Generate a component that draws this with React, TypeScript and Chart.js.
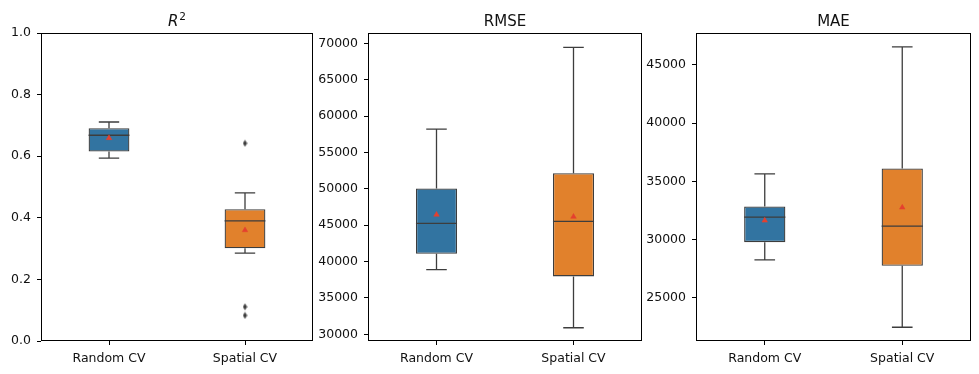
import React, { useEffect, useRef } from "react";
import { Chart, registerables } from "chart.js";
Chart.register(...registerables);

// ---------- data ----------
const categories = ["Random CV", "Spatial CV"];
const boxColors = ["#3274a1", "#e1812c"];

const r2WhiskerLow = [0.594, 0.285];
const r2Q1 = [0.615, 0.301];
const r2Median = [0.668, 0.39];
const r2Q3 = [0.691, 0.428];
const r2WhiskerHigh = [0.711, 0.481];
const r2Mean = [0.659, 0.36];
const r2OutliersSpatial = [0.642, 0.111, 0.083];
const r2Ticks = [0, 0.2, 0.4, 0.6, 0.8, 1.0];
const r2Range = [0, 1];

const rmseWhiskerLow = [38900, 30900];
const rmseQ1 = [41070, 37960];
const rmseMedian = [45260, 45540];
const rmseQ3 = [50050, 52150];
const rmseWhiskerHigh = [58200, 69450];
const rmseMean = [46450, 46170];
const rmseTicks = [30000, 35000, 40000, 45000, 50000, 55000, 60000, 65000, 70000];
const rmseRange = [29080, 71430];

const maeWhiskerLow = [28240, 22450];
const maeQ1 = [29770, 27730];
const maeMedian = [31920, 31150];
const maeQ3 = [32830, 36100];
const maeWhiskerHigh = [35640, 46550];
const maeMean = [31630, 32750];
const maeTicks = [25000, 30000, 35000, 40000, 45000];
const maeRange = [21270, 47750];

// ---------- styling ----------
const FONT = "'DejaVu Sans', sans-serif";
const LINE = "#3d3d3d";
const MEAN_COLOR = "#e4402f";

const boxPlugin = {
  id: "boxDetails",
  afterDatasetDraw(chart: any, args: any, opts: any) {
    if (args.index !== 0) return;
    const meta = chart.getDatasetMeta(0);
    const y = chart.scales.y;
    const ctx = chart.ctx;
    ctx.save();
    ctx.strokeStyle = LINE;
    ctx.lineWidth = 1.3;
    meta.data.forEach((bar: any, i: number) => {
      const x = bar.x;
      const hw = bar.width / 2;
      const cap = hw / 2;
      const yq1 = y.getPixelForValue(opts.q1[i]);
      const yq3 = y.getPixelForValue(opts.q3[i]);
      const ylo = y.getPixelForValue(opts.lo[i]);
      const yhi = y.getPixelForValue(opts.hi[i]);
      const ymed = y.getPixelForValue(opts.med[i]);
      ctx.beginPath();
      ctx.moveTo(x, yq3);
      ctx.lineTo(x, yhi);
      ctx.moveTo(x - cap, yhi);
      ctx.lineTo(x + cap, yhi);
      ctx.moveTo(x, yq1);
      ctx.lineTo(x, ylo);
      ctx.moveTo(x - cap, ylo);
      ctx.lineTo(x + cap, ylo);
      ctx.moveTo(x - hw, ymed);
      ctx.lineTo(x + hw, ymed);
      ctx.stroke();
    });
    ctx.restore();
  },
};

const framePlugin = {
  id: "frameTitle",
  afterDraw(chart: any, _args: any, opts: any) {
    const { left, right, top, bottom } = chart.chartArea;
    const ctx = chart.ctx;
    ctx.save();
    ctx.strokeStyle = "#000";
    ctx.lineWidth = 1;
    const l = Math.round(left) + 0.5;
    const t = Math.round(top) + 0.5;
    const r = Math.round(right) - 0.5;
    const b = Math.round(bottom) - 0.5;
    ctx.strokeRect(l, t, r - l, b - t);
    // title
    ctx.fillStyle = "#111";
    ctx.textBaseline = "alphabetic";
    const cx = (left + right) / 2;
    const by = top - 7;
    if (opts.math) {
      ctx.font = `italic 15px ${FONT}`;
      const w1 = ctx.measureText("R").width;
      ctx.font = `10.5px ${FONT}`;
      const w2 = ctx.measureText("2").width;
      const start = cx - (w1 + w2 + 1) / 2;
      ctx.font = `italic 15px ${FONT}`;
      ctx.textAlign = "left";
      ctx.fillText("R", start, by);
      ctx.font = `10.5px ${FONT}`;
      ctx.fillText("2", start + w1 + 1, by - 6);
    } else {
      ctx.font = `15px ${FONT}`;
      ctx.textAlign = "center";
      ctx.fillText(opts.text, cx, by);
    }
    ctx.restore();
  },
};

function makeDiamond(): HTMLCanvasElement {
  const c = document.createElement("canvas");
  c.width = 5;
  c.height = 8;
  const g = c.getContext("2d")!;
  g.fillStyle = LINE;
  g.beginPath();
  g.moveTo(2.5, 0.5);
  g.lineTo(4.6, 4);
  g.lineTo(2.5, 7.5);
  g.lineTo(0.4, 4);
  g.closePath();
  g.fill();
  return c;
}

type Panel = {
  title: string;
  math: boolean;
  lo: number[];
  q1: number[];
  med: number[];
  q3: number[];
  hi: number[];
  mean: number[];
  outliers: { x: string; y: number }[];
  ticks: number[];
  range: number[];
  decimals: number;
  left: number;
  width: number;
  axisWidth: number;
  padLeft: number;
  padRight: number;
};

const panels: Panel[] = [
  {
    title: "R2", math: true,
    lo: r2WhiskerLow, q1: r2Q1, med: r2Median, q3: r2Q3, hi: r2WhiskerHigh, mean: r2Mean,
    outliers: r2OutliersSpatial.map((v) => ({ x: categories[1], y: v })),
    ticks: r2Ticks, range: r2Range, decimals: 1,
    left: 0, width: 330, axisWidth: 40, padLeft: 1, padRight: 17,
  },
  {
    title: "RMSE", math: false,
    lo: rmseWhiskerLow, q1: rmseQ1, med: rmseMedian, q3: rmseQ3, hi: rmseWhiskerHigh, mean: rmseMean,
    outliers: [],
    ticks: rmseTicks, range: rmseRange, decimals: 0,
    left: 318, width: 330, axisWidth: 50, padLeft: 0, padRight: 6,
  },
  {
    title: "MAE", math: false,
    lo: maeWhiskerLow, q1: maeQ1, med: maeMedian, q3: maeQ3, hi: maeWhiskerHigh, mean: maeMean,
    outliers: [],
    ticks: maeTicks, range: maeRange, decimals: 0,
    left: 643, width: 336, axisWidth: 50, padLeft: 3, padRight: 8,
  },
];

const HEIGHT = 374;

export default function App() {
  const refs = useRef<(HTMLCanvasElement | null)[]>([]);

  useEffect(() => {
    const diamond = makeDiamond();
    const charts = panels.map((p, idx) => {
      const canvas = refs.current[idx]!;
      return new Chart(canvas, {
        type: "bar",
        data: {
          labels: categories,
          datasets: [
            {
              type: "bar",
              order: 3,
              data: categories.map((_, i) => [p.q1[i], p.q3[i]]),
              backgroundColor: boxColors,
              borderColor: LINE,
              borderWidth: 1.3,
              borderSkipped: false,
              barPercentage: 0.3,
              categoryPercentage: 1.0,
            } as any,
            {
              type: "line",
              order: 1,
              data: p.mean,
              showLine: false,
              pointStyle: "triangle",
              pointRadius: 3.2,
              pointBackgroundColor: MEAN_COLOR,
              pointBorderColor: MEAN_COLOR,
              pointBorderWidth: 0.5,
            } as any,
            {
              type: "line",
              order: 2,
              data: p.outliers,
              showLine: false,
              pointStyle: diamond,
              pointRadius: 4,
            } as any,
          ],
        },
        options: {
          responsive: false,
          animation: false,
          devicePixelRatio: 1,
          layout: { padding: { left: p.padLeft, right: p.padRight, top: 33, bottom: 0 } },
          plugins: {
            legend: { display: false },
            tooltip: { enabled: false },
            boxDetails: { lo: p.lo, q1: p.q1, med: p.med, q3: p.q3, hi: p.hi },
            frameTitle: { text: p.title, math: p.math },
          } as any,
          scales: {
            x: {
              type: "category",
              offset: true,
              grid: { offset: false, drawOnChartArea: false, drawTicks: true, tickLength: 4, color: "#000", tickWidth: 1 },
              border: { display: false },
              ticks: { color: "#111", font: { family: FONT, size: 12.5 }, padding: 6, maxRotation: 0 },
              afterFit: (s: any) => { s.height = 33; },
            },
            y: {
              type: "linear",
              min: p.range[0],
              max: p.range[1],
              grid: { drawOnChartArea: false, drawTicks: true, tickLength: 4, color: "#000", tickWidth: 1 },
              border: { display: false },
              ticks: {
                color: "#111",
                font: { family: FONT, size: 12.5 },
                padding: 6,
                callback: (v: any) => Number(v).toFixed(p.decimals),
              },
              afterBuildTicks: (s: any) => { s.ticks = p.ticks.map((v) => ({ value: v })); },
              afterFit: (s: any) => { s.width = p.axisWidth; },
            },
          },
        } as any,
        plugins: [boxPlugin, framePlugin],
      });
    });
    return () => charts.forEach((c) => c.destroy());
  }, []);

  return (
    <div style={{ position: "absolute", left: 0, top: 0, width: 979, height: HEIGHT, background: "#fff" }}>
      {panels.map((p, idx) => (
        <canvas
          key={idx}
          ref={(el) => { refs.current[idx] = el; }}
          width={p.width}
          height={HEIGHT}
          style={{ position: "absolute", left: p.left, top: 0, width: p.width, height: HEIGHT }}
        />
      ))}
    </div>
  );
}
